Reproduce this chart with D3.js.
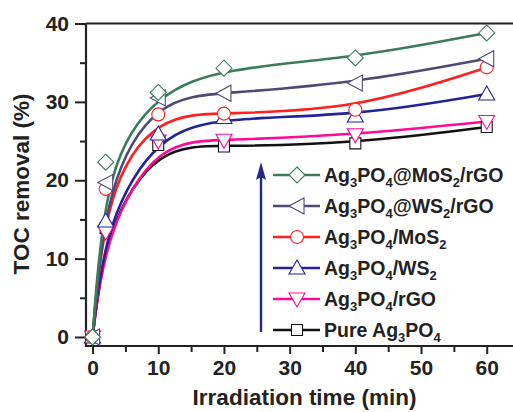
<!DOCTYPE html>
<html>
<head>
<meta charset="utf-8">
<script src="https://cdn.jsdelivr.net/npm/d3@7"></script>
<style>
  body { margin: 0; background: #fff; }
  text { font-family: "Liberation Sans", Arial, sans-serif; font-weight: bold; fill: #222; }
</style>
</head>
<body>
<div id="chart"></div>
<script>
var width = 513;
var height = 412;

// data
var times = [0, 2, 10, 20, 40, 60];
var names = ["Ag3PO4@MoS2/rGO", "Ag3PO4@WS2/rGO", "Ag3PO4/MoS2", "Ag3PO4/WS2", "Ag3PO4/rGO", "Pure Ag3PO4"];
var mos2rgo = [0, 22.3, 31.2, 34.3, 35.6, 38.8];
var ws2rgo  = [0, 19.7, 30.5, 31.1, 32.4, 35.5];
var mos2    = [0, 18.9, 28.4, 28.5, 29.0, 34.4];
var ws2     = [0, 14.8, 25.9, 28.0, 28.2, 31.0];
var rgo     = [0, 13.4, 25.0, 25.1, 25.8, 27.5];
var pure    = [0, 13.9, 24.5, 24.3, 24.7, 26.8];
var xTicks = [0, 10, 20, 30, 40, 50, 60];
var yTicks = [0, 10, 20, 30, 40];

var values = [mos2rgo, ws2rgo, mos2, ws2, rgo, pure];
var colors = ["#3b7d5a", "#4d4a78", "#ff1f1f", "#22229a", "#ff0a96", "#111111"];
var shapes = ["diamond", "left", "circle", "up", "down", "square"];

var xScale = d3.scaleLinear().domain([-1, 64]).range([86, 513]);
var yScale = d3.scaleLinear().domain([-1.15, 40]).range([346, 23.5]);

var svg = d3.select("#chart")
    .append("svg")
    .attr("width", width)
    .attr("height", height);

// marker path centred on 0,0
function markerPath(shape) {
  var p = d3.path();
  if (shape == "diamond") {
    p.moveTo(0, -8); p.lineTo(8, 0); p.lineTo(0, 8); p.lineTo(-8, 0); p.closePath();
  } else if (shape == "left") {
    p.moveTo(-8, 0); p.lineTo(7, -8); p.lineTo(7, 8); p.closePath();
  } else if (shape == "up") {
    p.moveTo(0, -8); p.lineTo(8, 6); p.lineTo(-8, 6); p.closePath();
  } else if (shape == "down") {
    p.moveTo(0, 8); p.lineTo(8, -6); p.lineTo(-8, -6); p.closePath();
  } else if (shape == "square") {
    p.rect(-5.5, -5.5, 11, 11);
  } else {
    p.arc(0, 0, 6.5, 0, 2 * Math.PI);
  }
  return p.toString();
}

// axes
var xAxis = d3.axisBottom(xScale).tickValues(xTicks).tickSize(8).tickPadding(6);
var xMinor = d3.axisBottom(xScale).tickValues(d3.range(5, 65, 10)).tickSize(6).tickFormat("");
var yAxis = d3.axisLeft(yScale).tickValues(yTicks).tickSize(11).tickPadding(6);
var yMinor = d3.axisLeft(yScale).tickValues([5, 15, 25, 35]).tickSize(6).tickFormat("");

function styleAxis(g) {
  g.select(".domain").remove();
  g.selectAll("line").attr("stroke", "#222").attr("stroke-width", 2);
  g.selectAll("text").style("font-size", "21px").style("fill", "#222")
    .style("font-family", "Liberation Sans, Arial, sans-serif").style("font-weight", "bold");
}

svg.append("g").attr("transform", "translate(0,346)").call(xAxis).call(styleAxis);
svg.append("g").attr("transform", "translate(0,346)").call(xMinor).call(styleAxis);
svg.append("g").attr("transform", "translate(86,0)").call(yAxis).call(styleAxis);
svg.append("g").attr("transform", "translate(86,0)").call(yMinor).call(styleAxis);

// frame
svg.append("path")
  .attr("d", "M86," + yScale(40) + "H513M86," + yScale(40) + "V346H513")
  .attr("fill", "none")
  .attr("stroke", "#222")
  .attr("stroke-width", 2.2);

// curves
var line = d3.line()
  .x(function(d, i) { return xScale(times[i]); })
  .y(function(d) { return yScale(d); })
  .curve(d3.curveBasis);

for (var s = values.length - 1; s >= 0; --s) {
  svg.append("path")
    .attr("d", line(values[s]))
    .attr("fill", "none")
    .attr("stroke", colors[s])
    .attr("stroke-width", 2.6);
}

for (var s = values.length - 1; s >= 0; --s) {
  svg.selectAll(".m" + s)
    .data(values[s])
    .enter()
    .append("path")
    .attr("class", "m" + s)
    .attr("transform", function(d, i) { return "translate(" + xScale(times[i]) + "," + yScale(d) + ")"; })
    .attr("d", markerPath(shapes[s]))
    .attr("fill", "white")
    .attr("stroke", colors[s])
    .attr("stroke-width", 1.1);
}

// legend
var legendX = 273, legendY = 175, legendStep = 31;
var legend = svg.selectAll(".legend")
  .data(names)
  .enter()
  .append("g")
  .attr("class", "legend")
  .attr("transform", function(d, i) { return "translate(" + legendX + "," + (legendY + i * legendStep) + ")"; });

legend.append("line")
  .attr("x1", 0).attr("x2", 47)
  .attr("stroke", function(d, i) { return colors[i]; })
  .attr("stroke-width", 2.6);

legend.append("path")
  .attr("transform", "translate(24,0)")
  .attr("d", function(d, i) { return markerPath(shapes[i]); })
  .attr("fill", "white")
  .attr("stroke", function(d, i) { return colors[i]; })
  .attr("stroke-width", 1.1);

legend.append("text")
  .attr("x", 51)
  .attr("y", 7)
  .style("font-size", "19.5px")
  .each(function(d) {
    var t = d3.select(this);
    var parts = d.match(/\d+|\D+/g);
    parts.forEach(function(p) {
      var sub = /\d/.test(p);
      t.append("tspan")
        .style("font-size", sub ? "13px" : "19.5px")
        .attr("dy", sub ? 5 : -5)
        .text(p);
    });
    t.select("tspan").attr("dy", /\d/.test(parts[0]) ? 5 : 0);
  });

// arrow
svg.append("line")
  .attr("x1", 261).attr("y1", 332)
  .attr("x2", 261).attr("y2", 176)
  .attr("stroke", "#25258c")
  .attr("stroke-width", 2.4);

svg.append("path")
  .attr("d", "M261,162L266,180L261,177L256,180Z")
  .attr("fill", "#25258c");

// titles
svg.append("text")
  .attr("x", (182 + 427) / 2)
  .attr("y", 405)
  .attr("text-anchor", "middle")
  .style("font-size", "22.5px")
  .text("Irradiation time (min)");

svg.append("text")
  .attr("transform", "translate(29,184) rotate(-90)")
  .attr("text-anchor", "middle")
  .style("font-size", "22.5px")
  .text("TOC removal (%)");
</script>
</body>
</html>
